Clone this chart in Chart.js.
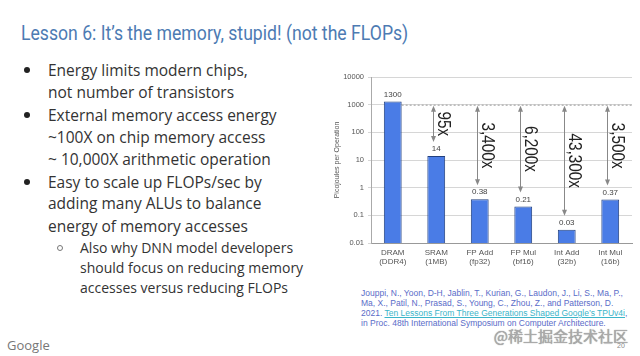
<!DOCTYPE html>
<html>
<head>
<meta charset="utf-8">
<script src="https://cdn.jsdelivr.net/npm/chart.js@4.4.0/dist/chart.umd.min.js"></script>
<style>
  html, body { margin: 0; padding: 0; background: #fff; }
  #slide { position: relative; width: 640px; height: 356px; overflow: hidden; background: #fff; }
  .t { position: absolute; white-space: nowrap; }
  #title { left: 21px; top: 20px; font: 20.5px Roboto, sans-serif; color: #4d7bb3; line-height: 26px; transform: scaleX(0.86); transform-origin: 0 0; }
  .ln { left: 48px; font: 15.5px "Open Sans", sans-serif; color: #333; line-height: 20px; }
  .sub { left: 80px; font: 14px "Open Sans", sans-serif; color: #333; line-height: 20px; }
  .dot { position: absolute; width: 6px; height: 6px; border-radius: 50%; background: #222; }
  .odot { position: absolute; width: 4px; height: 4px; border-radius: 50%; border: 1px solid #777; }
  .cite { left: 361px; font: 8.5px "Liberation Sans", Arial, sans-serif; color: #5a6cc8; line-height: 10px; }
  .cite a { color: #3ab5c9; text-decoration: underline; }
  #chartBox { position: absolute; left: 320px; top: 62px; width: 320px; height: 215px; }
  #wm { right: 12px; top: 326px; font: 15px "Noto Sans CJK SC", sans-serif; color: #aaa; text-shadow: 0 0 1px #777; line-height: 20px; }
  #pg { left: 617px; top: 342px; font: 7px "Liberation Sans", sans-serif; color: #888; }
  #goog { left: 7px; top: 337px; font: 13px "Open Sans", sans-serif; color: #777; line-height: 16px; }
</style>
</head>
<body>
<div id="slide">
  <div class="t" id="title">Lesson 6: It’s the memory, stupid! (not the FLOPs)</div>

  <div class="dot" style="left:24px; top:67px"></div>
  <div class="t ln" style="top:60px">Energy limits modern chips,</div>
  <div class="t ln" style="top:82px">not number of transistors</div>
  <div class="dot" style="left:24px; top:112px"></div>
  <div class="t ln" style="top:105px">External memory access energy</div>
  <div class="t ln" style="top:127px">~100X on chip memory access</div>
  <div class="t ln" style="top:149px">~ 10,000X arithmetic operation</div>
  <div class="dot" style="left:24px; top:179px"></div>
  <div class="t ln" style="top:172px">Easy to scale up FLOPs/sec by</div>
  <div class="t ln" style="top:193px">adding many ALUs to balance</div>
  <div class="t ln" style="top:216px">energy of memory accesses</div>
  <div class="odot" style="left:57px; top:245px"></div>
  <div class="t sub" style="top:238px">Also why DNN model developers</div>
  <div class="t sub" style="top:258px">should focus on reducing memory</div>
  <div class="t sub" style="top:278px">accesses versus reducing FLOPs</div>

  <div id="chartBox"><canvas id="myChart" width="320" height="215"></canvas></div>

  <div class="t cite" style="top:288px">Jouppi, N., Yoon, D-H, Jablin, T., Kurian, G., Laudon, J., Li, S., Ma, P.,</div>
  <div class="t cite" style="top:298px">Ma, X., Patil, N., Prasad, S., Young, C., Zhou, Z., and Patterson, D.</div>
  <div class="t cite" style="top:308px">2021. <a>Ten Lessons From Three Generations Shaped Google’s TPUv4i</a>,</div>
  <div class="t cite" style="top:318px">in Proc. 48th International Symposium on Computer Architecture.</div>

  <div class="t" id="wm">@稀土掘金技术社区</div>
  <div class="t" id="pg">20</div>
  <div class="t" id="goog">Google</div>
</div>

<script>
// data
const categories = [
  ['DRAM', '(DDR4)'],
  ['SRAM', '(1MB)'],
  ['FP Add', '(fp32)'],
  ['FP Mul', '(bf16)'],
  ['Int Add', '(32b)'],
  ['Int Mul', '(16b)']
];
const energy = [1300, 14, 0.38, 0.21, 0.03, 0.37];
const valueLabels = ['1300', '14', '0.38', '0.21', '0.03', '0.37'];
const ratioLabels = ['', '95x', '3,400x', '6,200x', '43,300x', '3,500x'];
const yTicks = [0.01, 0.1, 1, 10, 100, 1000, 10000];
const yTickLabels = ['0.01', '0.1', '1', '10', '100', '1000', '10000'];
const refLevel = 1000;

// labels, dotted reference line and ratio arrows
const annotate = {
  id: 'annotate',
  afterDatasetsDraw(chart) {
    const ctx = chart.ctx;
    const meta = chart.getDatasetMeta(0);
    const y = chart.scales.y;
    const area = chart.chartArea;
    const refY = y.getPixelForValue(refLevel);

    ctx.save();
    // value labels
    ctx.font = '8px "Liberation Sans", Arial, sans-serif';
    ctx.fillStyle = '#444';
    ctx.textAlign = 'center';
    ctx.textBaseline = 'bottom';
    meta.data.forEach((bar, i) => {
      ctx.fillText(valueLabels[i], bar.x, bar.y - 3);
    });

    // dotted line
    const first = meta.data[0];
    ctx.strokeStyle = '#999';
    ctx.lineWidth = 1;
    ctx.setLineDash([2, 2]);
    ctx.beginPath();
    ctx.moveTo(first.x + first.width / 2, refY + 0.5);
    ctx.lineTo(area.right, refY + 0.5);
    ctx.stroke();
    ctx.setLineDash([]);

    // arrows + ratios
    meta.data.forEach((bar, i) => {
      if (!ratioLabels[i]) return;
      const ax = Math.round(bar.x - 3) + 0.5;
      const top = refY + 1;
      const bot = bar.y - 14;
      ctx.strokeStyle = '#888';
      ctx.fillStyle = '#888';
      ctx.beginPath();
      ctx.moveTo(ax, top + 4);
      ctx.lineTo(ax, bot - 4);
      ctx.stroke();
      ctx.beginPath();
      ctx.moveTo(ax, top); ctx.lineTo(ax - 2.5, top + 6); ctx.lineTo(ax + 2.5, top + 6);
      ctx.closePath(); ctx.fill();
      ctx.beginPath();
      ctx.moveTo(ax, bot); ctx.lineTo(ax - 2.5, bot - 6); ctx.lineTo(ax + 2.5, bot - 6);
      ctx.closePath(); ctx.fill();

      ctx.save();
      ctx.translate(ax + 9, (top + bot) / 2);
      ctx.rotate(Math.PI / 2);
      ctx.scale(0.85, 1);
      ctx.font = '18px "Liberation Sans", Arial, sans-serif';
      ctx.fillStyle = '#222';
      ctx.textAlign = 'center';
      ctx.textBaseline = 'middle';
      ctx.fillText(ratioLabels[i], 0, 0);
      ctx.restore();
    });
    ctx.restore();
  }
};

const data = {
  labels: categories,
  datasets: [{
    data: energy,
    backgroundColor: '#4a7ce6',
    borderColor: '#22407f',
    borderWidth: 1,
    borderSkipped: 'bottom',
    barPercentage: 0.41,
    categoryPercentage: 1
  }]
};

const config = {
  type: 'bar',
  data,
  options: {
    responsive: false,
    animation: false,
    devicePixelRatio: 1,
    layout: { padding: { left: 9, top: 15, right: 8, bottom: 4 } },
    plugins: { legend: { display: false }, tooltip: { enabled: false } },
    scales: {
      x: {
        grid: { display: false, drawTicks: false },
        border: { color: '#999' },
        ticks: {
          color: '#555',
          padding: 5,
          maxRotation: 0,
          autoSkip: false,
          font: { size: 8, family: '"Liberation Sans", Arial, sans-serif', lineHeight: 1.15 }
        },
        afterFit(s) { s.height = 30; }
      },
      y: {
        type: 'logarithmic',
        min: 0.01,
        max: 10000,
        grid: { color: '#d6d6d6', tickLength: 3 },
        border: { color: '#aaa' },
        title: {
          display: true,
          text: 'Picojoules per Operation',
          color: '#555',
          font: { size: 7, family: '"Liberation Sans", Arial, sans-serif' }
        },
        ticks: {
          color: '#555',
          padding: 4,
          font: { size: 7.5, family: '"Liberation Sans", Arial, sans-serif' },
          callback: (v) => yTickLabels[yTicks.indexOf(v)]
        },
        afterBuildTicks(s) { s.ticks = yTicks.map(v => ({ value: v })); },
        afterFit(s) { s.width = 42; }
      }
    }
  },
  plugins: [annotate]
};

const myChart = new Chart(document.getElementById('myChart'), config);
</script>
</body>
</html>
